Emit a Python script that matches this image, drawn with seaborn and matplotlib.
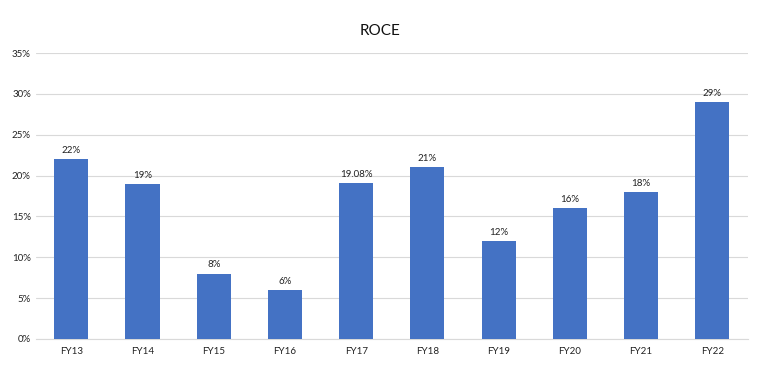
import numpy as np
import pandas as pd
import matplotlib
matplotlib.use('Agg')
import matplotlib.pyplot as plt
import seaborn as sns
from matplotlib.ticker import FuncFormatter

# ROCE by fiscal year (percent)
years = ['FY13', 'FY14', 'FY15', 'FY16', 'FY17', 'FY18', 'FY19', 'FY20', 'FY21', 'FY22']
roce = [22, 19, 8, 6, 19.08, 21, 12, 16, 18, 29]
labels = ['22%', '19%', '8%', '6%', '19.08%', '21%', '12%', '16%', '18%', '29%']

sns.set_style('white')
plt.rcParams['font.family'] = ['Lato', 'DejaVu Sans']

df = pd.DataFrame({'year': years, 'roce': roce})

fig = plt.figure(figsize=(7.6, 3.74), dpi=100)
ax = fig.add_axes([0.047, 0.094, 0.937, 0.764])

sns.barplot(data=df, x='year', y='roce', color='#4472C4', saturation=1,
            width=0.48, linewidth=0, ax=ax, zorder=3)

for i, (v, lab) in enumerate(zip(roce, labels)):
    ax.text(i, v + 0.5, lab, ha='center', va='bottom', fontsize=7, color='#222222')

ax.set_ylim(0, 35)
ax.set_yticks(np.arange(0, 36, 5))
ax.yaxis.set_major_formatter(FuncFormatter(lambda y, _: f'{int(y)}%'))
ax.grid(axis='y', color='#d9d9d9', linewidth=0.8, zorder=0)
ax.set_axisbelow(True)
for s in ['top', 'right', 'left']:
    ax.spines[s].set_visible(False)
ax.spines['bottom'].set_color('#d9d9d9')
ax.tick_params(axis='both', length=0, labelsize=7, colors='#222222')
ax.tick_params(axis='x', pad=6)
ax.set_xlabel('')
ax.set_ylabel('')
ax.set_xlim(-0.5, 9.5)

fig.suptitle('ROCE', y=0.935, fontsize=11, color='#111111')

fig.savefig('out.png', dpi=100)
